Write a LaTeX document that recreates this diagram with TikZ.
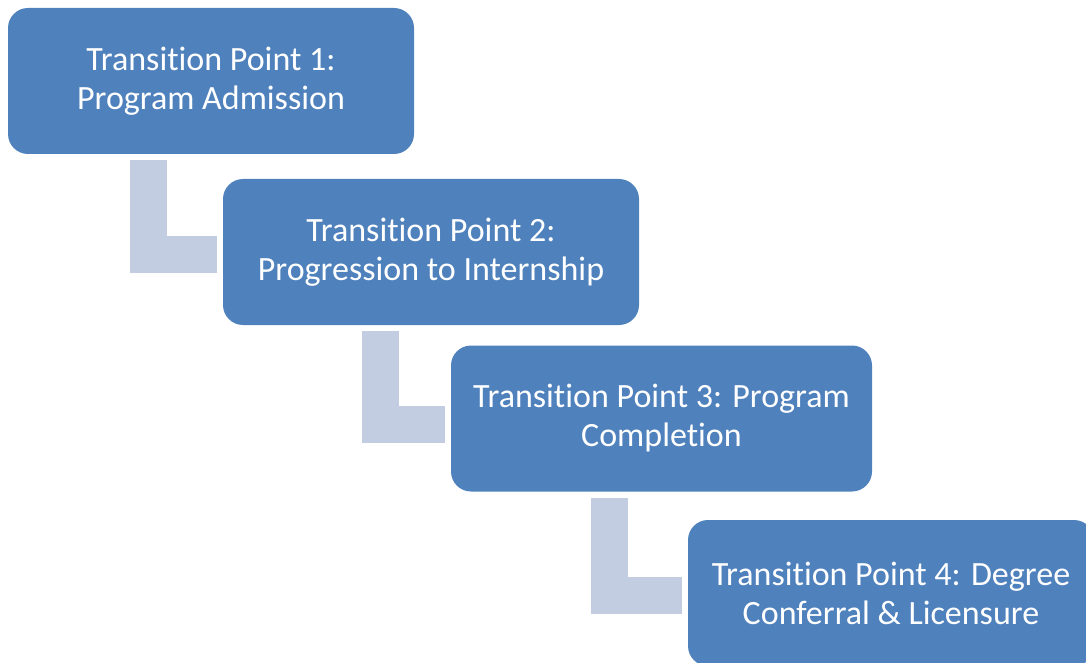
\documentclass[tikz,border=0pt]{standalone}
\usepackage{fontspec}
\newfontfamily\boxfont[Ligatures=NoCommon]{Carlito}
\definecolor{stepblue}{RGB}{79,129,189}
\definecolor{linkgray}{RGB}{194,205,226}
\tikzset{tpbox/.style = {shape=rectangle,rounded corners=20pt,fill=stepblue,text=white,
  minimum height=146pt,align=center,inner sep=0pt,font=\boxfont\fontsize{34}{39}\selectfont}}
\tikzset{link/.style = {draw=linkgray,line width=37pt,shorten <=6pt,shorten >=6pt}}

\begin{document}
\begin{tikzpicture}[x=1pt,y=-1pt]
\useasboundingbox (0,0) rectangle (1086,663);

\node[tpbox,minimum width=406pt] (tp1) at (211,81) {Transition Point 1:\\Program Admission};
\node[tpbox,minimum width=416pt] (tp2) at (431,252) {Transition Point 2:\\Progression to Internship};
\node[tpbox,minimum width=421pt] (tp3) at (661.5,418.5) {Transition Point 3: Program\\Completion};
\node[tpbox,minimum width=406pt] (tp4) at (891,593) {Transition Point 4: Degree\\Conferral \& Licensure};

\draw[link] (tp1.south west) ++(140.5,0) |- ([yshift=-2pt]tp2.west);
\draw[link] (tp2.south west) ++(157.5,0) |- ([yshift=-6pt]tp3.west);
\draw[link] (tp3.south west) ++(158.5,0) |- ([yshift=-2.5pt]tp4.west);

\end{tikzpicture}
\end{document}
